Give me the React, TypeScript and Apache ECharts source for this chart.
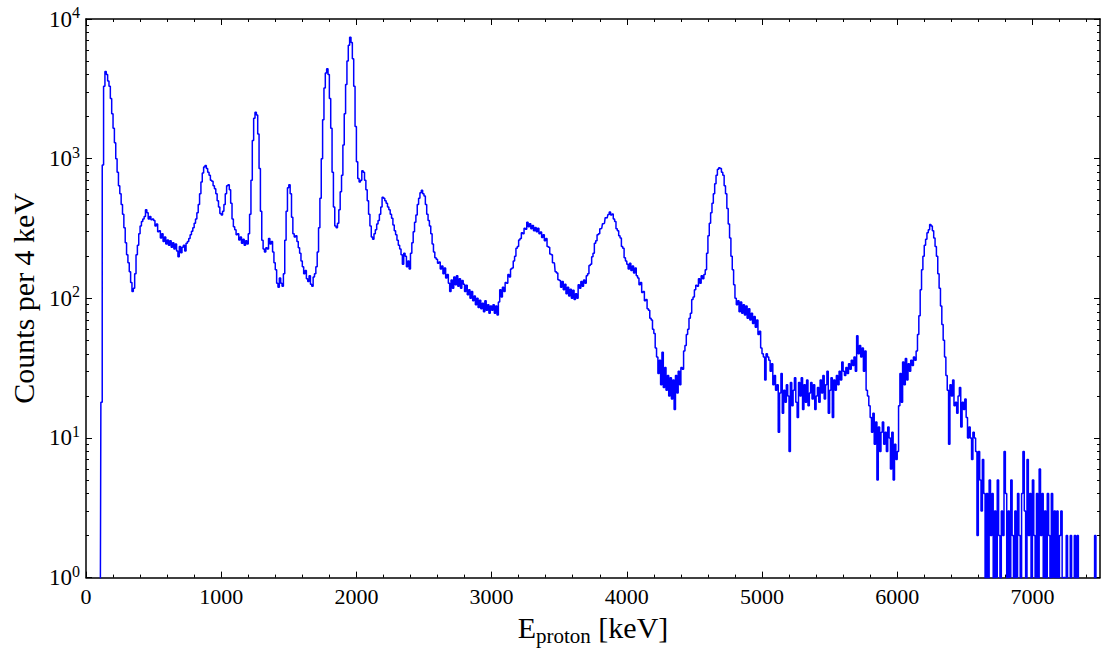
import React, { useEffect, useRef } from 'react';
import * as echarts from 'echarts';

// Proton energy spectrum, counts, one value per 10 keV bin
const BIN_KEV = 10;

const counts0000 = [0, 0, 0, 0, 0, 0, 0, 0, 0, 0, 0, 18, 900, 3300, 4200, 4000, 3600, 3300, 2700, 2100, 1650, 1300, 1000, 800, 640, 560, 470, 400, 320, 250, 205, 180, 155, 130, 112, 118, 150, 205, 240, 290, 330, 355, 370, 385, 430, 410, 370, 385, 365, 370];
const counts0500 = [360, 330, 340, 300, 305, 270, 290, 255, 275, 245, 262, 240, 258, 232, 250, 225, 245, 218, 198, 235, 212, 232, 240, 218, 248, 255, 268, 285, 302, 320, 345, 370, 410, 470, 560, 680, 790, 870, 895, 850, 800, 760, 700, 690, 640, 610, 560, 500, 450, 405];
const counts1000 = [395, 420, 470, 560, 640, 650, 600, 480, 370, 325, 310, 285, 290, 262, 275, 248, 265, 240, 258, 245, 290, 400, 700, 1350, 1950, 2150, 2050, 1500, 850, 420, 260, 225, 215, 230, 225, 268, 245, 255, 215, 180, 160, 128, 120, 140, 128, 122, 150, 260, 420, 620];
const counts1500 = [650, 560, 380, 290, 275, 280, 255, 230, 210, 185, 168, 150, 158, 138, 132, 145, 126, 122, 142, 150, 168, 215, 320, 520, 1000, 1900, 3200, 4100, 4400, 4000, 2700, 1650, 800, 450, 330, 320, 345, 430, 580, 760, 1250, 2100, 3400, 5000, 6500, 7400, 6800, 5200, 3300, 1700];
const counts2000 = [950, 720, 680, 700, 820, 800, 700, 600, 500, 400, 330, 275, 265, 290, 310, 340, 360, 400, 450, 530, 520, 500, 480, 450, 430, 400, 375, 335, 305, 285, 260, 240, 225, 205, 175, 210, 200, 168, 185, 162, 210, 250, 300, 350, 395, 470, 520, 570, 595, 560];
const counts2500 = [540, 470, 400, 360, 330, 290, 245, 215, 195, 190, 178, 182, 162, 170, 150, 165, 140, 148, 128, 112, 135, 118, 142, 125, 145, 122, 138, 118, 134, 126, 112, 124, 106, 115, 100, 112, 96, 104, 90, 100, 86, 97, 84, 92, 80, 96, 82, 90, 78, 88];
const counts3000 = [82, 90, 78, 88, 76, 94, 115, 102, 120, 112, 130, 128, 148, 142, 162, 165, 185, 200, 228, 235, 262, 268, 295, 290, 318, 312, 350, 325, 342, 315, 332, 305, 322, 300, 318, 290, 298, 272, 285, 258, 268, 235, 232, 208, 205, 180, 178, 155, 152, 136];
const counts3500 = [134, 120, 132, 115, 126, 108, 120, 104, 116, 100, 114, 98, 108, 100, 125, 118, 132, 122, 135, 128, 145, 150, 172, 175, 198, 210, 248, 258, 285, 290, 315, 318, 342, 345, 378, 375, 398, 415, 395, 402, 370, 355, 315, 305, 280, 270, 235, 228, 195, 185];
const counts4000 = [175, 162, 178, 158, 170, 152, 165, 145, 140, 125, 130, 110, 112, 96, 98, 84, 82, 72, 70, 60, 56, 44, 38, 29, 36, 24, 41, 23, 32, 22, 28, 20, 27, 19, 26, 16, 28, 21, 30, 24, 32, 31, 42, 46, 55, 60, 72, 78, 98, 102];
const counts4500 = [115, 124, 122, 138, 128, 145, 138, 148, 160, 210, 280, 345, 410, 480, 560, 660, 760, 840, 860, 850, 800, 760, 640, 560, 440, 340, 270, 200, 160, 125, 100, 90, 96, 80, 94, 78, 90, 76, 88, 72, 84, 70, 78, 66, 74, 62, 70, 55, 58, 44];
const counts5000 = [40, 38, 26, 40, 38, 36, 30, 34, 24, 28, 22, 24, 11, 21, 29, 15, 22, 18, 24, 20, 8, 25, 17, 22, 27, 18, 14, 25, 20, 27, 16, 24, 18, 26, 17, 21, 25, 19, 24, 16, 20, 23, 18, 26, 21, 28, 19, 24, 30, 15];
const counts5500 = [22, 27, 14, 26, 22, 28, 24, 30, 26, 35, 30, 28, 32, 29, 34, 31, 36, 33, 38, 30, 54, 40, 46, 38, 44, 30, 42, 22, 20, 17, 14, 11, 15, 9, 13, 5, 12, 8, 11, 13, 9, 11, 8, 12, 10, 6, 11, 5, 9, 7];
const counts6000 = [8, 17, 29, 18, 35, 24, 37, 26, 34, 30, 36, 33, 38, 36, 42, 55, 75, 115, 160, 200, 240, 265, 295, 310, 337, 330, 305, 270, 235, 200, 150, 118, 88, 65, 50, 38, 28, 22, 9, 24, 20, 26, 17, 18, 15, 20, 23, 12, 18, 16];
const counts6500 = [19, 14, 10, 12, 10, 7, 11, 10, 8, 2, 8, 5, 3, 7, 4, 0, 4, 0, 5, 2, 4, 0, 3, 1, 5, 2, 0, 3, 2, 8, 4, 0, 3, 1, 5, 2, 0, 3, 1, 4, 2, 0, 4, 8, 3, 0, 7, 2, 4, 0];
const counts7000 = [5, 2, 0, 4, 0, 6, 2, 4, 1, 3, 0, 4, 2, 0, 4, 1, 3, 0, 3, 0, 2, 3, 0, 1, 0, 2, 0, 0, 2, 0, 0, 2, 0, 2, 0, 0, 0, 0, 0, 0, 0, 0, 0, 0, 0, 0, 2, 0, 0, 0];

const segments = [counts0000, counts0500, counts1000, counts1500, counts2000, counts2500, counts3000, counts3500, counts4000, counts4500, counts5000, counts5500, counts6000, counts6500, counts7000];

const xMajorTicks = [0, 1000, 2000, 3000, 4000, 5000, 6000, 7000];
const xMinorTicks = [200, 400, 600, 800, 1200, 1400, 1600, 1800, 2200, 2400, 2600, 2800, 3200, 3400, 3600, 3800, 4200, 4400, 4600, 4800, 5200, 5400, 5600, 5800, 6200, 6400, 6600, 6800, 7200, 7400];
const yMajorTicks = [1, 10, 100, 1000, 10000];
const yMinorTicks = [2, 3, 4, 5, 6, 7, 8, 9, 20, 30, 40, 50, 60, 70, 80, 90, 200, 300, 400, 500, 600, 700, 800, 900, 2000, 3000, 4000, 5000, 6000, 7000, 8000, 9000];

const FONT = "'Liberation Serif', 'DejaVu Serif', serif";

export default function App() {
  const ref = useRef<HTMLDivElement>(null);

  useEffect(() => {
    const chart = echarts.init(ref.current as HTMLDivElement, null, { renderer: 'svg' });
    const counts = segments.flat();
    // empty bins are drawn below the axis floor (clipped), like a log plot of zero
    const data = counts.map((c, i) => [i * BIN_KEV + BIN_KEV / 2, c > 0 ? c : 0.3]);

    const spine = { show: true, onZero: false, lineStyle: { color: '#000', width: 1.5 } };
    const noLine = { show: false, onZero: false };
    const tickStyle = { color: '#000', width: 1 };

    const xBase = { type: 'value', min: 0, max: 7500, splitLine: { show: false } };
    const yBase = { type: 'log', logBase: 10, min: 1, max: 10000, splitLine: { show: false } };

    const option: any = {
      animation: false,
      backgroundColor: '#fff',
      grid: { left: 86, top: 19, width: 1014, height: 560, containLabel: false },
      xAxis: [
        {
          ...xBase,
          position: 'bottom',
          axisLine: spine,
          axisTick: { show: true, inside: true, length: 6, customValues: xMajorTicks, lineStyle: tickStyle },
          axisLabel: {
            show: true,
            customValues: xMajorTicks,
            formatter: (v: number) => String(v),
            fontSize: 22,
            color: '#000',
            fontFamily: FONT,
            margin: 8,
          },
          name: '{a|E}{b|proton}{a| [keV]}',
          nameLocation: 'middle',
          nameGap: 30,
          nameTextStyle: {
            fontFamily: FONT,
            color: '#000',
            rich: {
              a: { fontSize: 30, fontFamily: FONT, color: '#000' },
              b: { fontSize: 21, fontFamily: FONT, color: '#000', padding: [16, 0, 0, 0] },
            },
          },
        },
        {
          ...xBase,
          position: 'bottom',
          axisLine: noLine,
          axisTick: { show: true, inside: true, length: 3, customValues: xMinorTicks, lineStyle: tickStyle },
          axisLabel: { show: false },
        },
        {
          ...xBase,
          position: 'top',
          axisLine: spine,
          axisTick: { show: true, inside: true, length: 6, customValues: xMajorTicks, lineStyle: tickStyle },
          axisLabel: { show: false },
        },
        {
          ...xBase,
          position: 'top',
          axisLine: noLine,
          axisTick: { show: true, inside: true, length: 3, customValues: xMinorTicks, lineStyle: tickStyle },
          axisLabel: { show: false },
        },
      ],
      yAxis: [
        {
          ...yBase,
          position: 'left',
          axisLine: spine,
          axisTick: { show: true, inside: true, length: 6, customValues: yMajorTicks, lineStyle: tickStyle },
          axisLabel: {
            show: true,
            customValues: yMajorTicks,
            margin: 6,
            formatter: (v: number) => `{b|10}{s|${Math.round(Math.log10(v))}}`,
            rich: {
              b: { fontSize: 23, fontFamily: FONT, color: '#000' },
              s: { fontSize: 16, fontFamily: FONT, color: '#000', padding: [0, 0, 13, 0] },
            },
          },
          name: 'Counts per 4 keV',
          nameLocation: 'middle',
          nameRotate: 90,
          nameGap: 46,
          nameTextStyle: { fontSize: 30, fontFamily: FONT, color: '#000' },
        },
        {
          ...yBase,
          position: 'left',
          axisLine: noLine,
          axisTick: { show: true, inside: true, length: 3, customValues: yMinorTicks, lineStyle: tickStyle },
          axisLabel: { show: false },
        },
        {
          ...yBase,
          position: 'right',
          axisLine: spine,
          axisTick: { show: true, inside: true, length: 6, customValues: yMajorTicks, lineStyle: tickStyle },
          axisLabel: { show: false },
        },
        {
          ...yBase,
          position: 'right',
          axisLine: noLine,
          axisTick: { show: true, inside: true, length: 3, customValues: yMinorTicks, lineStyle: tickStyle },
          axisLabel: { show: false },
        },
      ],
      series: [
        {
          type: 'line',
          xAxisIndex: 0,
          yAxisIndex: 0,
          data,
          step: 'middle',
          showSymbol: false,
          symbol: 'none',
          clip: true,
          lineStyle: { color: '#0000ff', width: 1.5 },
          itemStyle: { color: '#0000ff' },
          silent: true,
        },
      ],
    };

    chart.setOption(option);
    return () => chart.dispose();
  }, []);

  return (
    <div
      ref={ref}
      style={{ position: 'fixed', left: 0, top: 0, width: 1104, height: 651, background: '#fff' }}
    />
  );
}
